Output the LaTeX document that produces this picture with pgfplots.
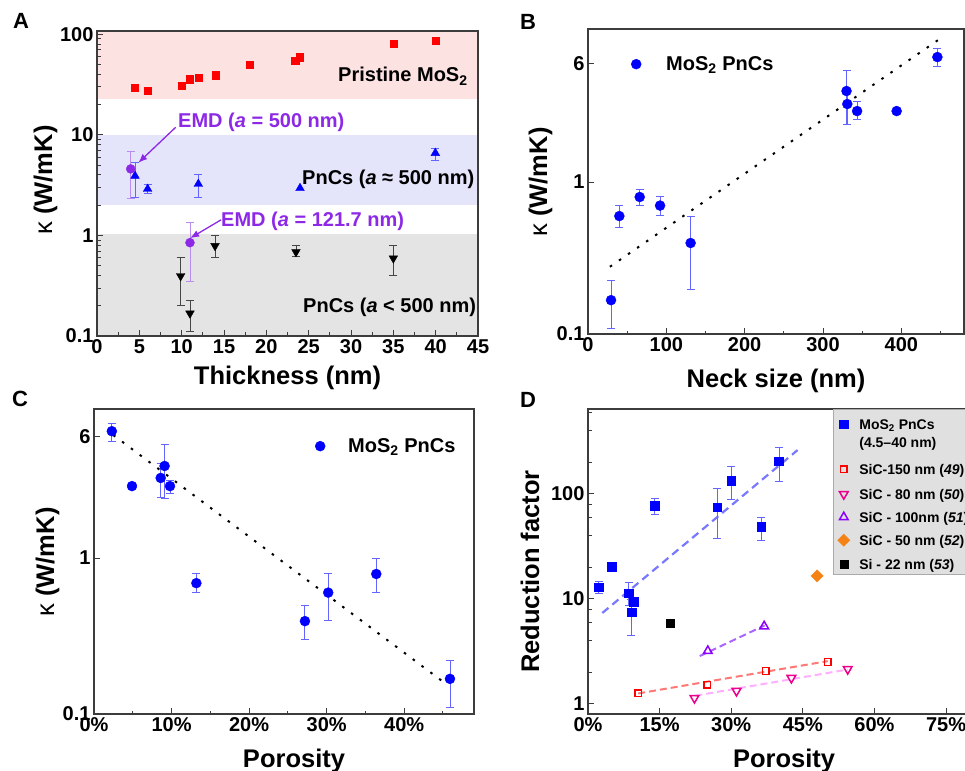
\documentclass[border=0pt]{standalone}
\usepackage{fontspec}
\setmainfont{Liberation Sans}
\usepackage{pgfplots}
\pgfplotsset{compat=1.18}
\usetikzlibrary{arrows.meta}

\definecolor{pinkband}{RGB}{253,226,226}
\definecolor{blueband}{RGB}{228,228,251}
\definecolor{grayband}{RGB}{228,228,228}
\definecolor{emd}{RGB}{140,40,230}
\definecolor{emderr}{RGB}{185,140,240}
\definecolor{bluerr}{RGB}{100,100,255}
\definecolor{blkerr}{RGB}{70,70,70}
\definecolor{axgray}{RGB}{60,60,60}
\definecolor{dblue}{RGB}{120,120,255}
\definecolor{dred}{RGB}{255,120,120}
\definecolor{dpink}{RGB}{255,175,255}
\definecolor{dpurp}{RGB}{170,100,255}
\definecolor{purp}{RGB}{140,0,255}
\definecolor{orng}{RGB}{245,130,20}
\definecolor{lgdgray}{RGB}{224,224,224}
\definecolor{lgdedge}{RGB}{170,170,170}

\newcommand{\tf}{\fontsize{20}{24}\selectfont\bfseries}
\newcommand{\lf}{\fontsize{25.5}{30}\selectfont\bfseries}
\newcommand{\pf}{\fontsize{22}{26}\selectfont\bfseries}
\newcommand{\gf}{\fontsize{14}{17}\selectfont\bfseries}

\pgfplotsset{
  panel/.style={
    scale only axis, anchor=south west, axis on top,
    axis line style={axgray, line width=1.1pt},
    tick style={axgray, line width=1pt},
    major tick length=6pt, minor tick length=3.5pt,
    tick pos=left, tick align=inside,
    ticklabel style={font=\tf},
    /pgf/number format/assume math mode=true,
  },
  errb/.style={
    /pgfplots/error bars/y dir=both,
    /pgfplots/error bars/y explicit,
    /pgfplots/error bars/error bar style={color=#1, line width=0.9pt},
    /pgfplots/error bars/error mark options={color=#1, line width=0.9pt, mark size=4pt, rotate=90},
  },
  onemark/.style={legend image code/.code={\draw[##1] plot coordinates {(0pt,#1)};}},
}

\begin{document}
\begin{tikzpicture}
\path[use as bounding box] (0,0) rectangle (965pt,770pt);

% ---------------- Panel A ----------------
\begin{axis}[panel, at={(97pt,434pt)}, width=381pt, height=305pt,
  xmin=0, xmax=45, ymode=log, ymin=0.1, ymax=108,
  xtick={0,5,10,15,20,25,30,35,40,45}, xticklabels={0,5,10,15,20,25,30,35,40,45},
  minor xtick={2.5,7.5,12.5,17.5,22.5,27.5,32.5,37.5,42.5},
  ytick={0.1,1,10,100}, yticklabels={0.1,1,10,100},
  minor ytick={0.2,0.3,0.4,0.5,0.6,0.7,0.8,0.9,2,3,4,5,6,7,8,9,20,30,40,50,60,70,80,90}]
\addplot[draw=none, fill=pinkband, forget plot] coordinates {(0,22.8) (45,22.8) (45,108) (0,108)};
\addplot[draw=none, fill=blueband, forget plot] coordinates {(0,2.0) (45,2.0) (45,10) (0,10)};
\addplot[draw=none, fill=grayband, forget plot] coordinates {(0,0.1) (45,0.1) (45,1.03) (0,1.03)};
% pristine
\addplot[only marks, mark=square*, mark size=3.6pt, color=red] coordinates {
 (4.49,29.4) (5.98,27.6) (10.0,30.7) (10.98,35.8) (12.0,37.2) (14.0,39.3)
 (17.99,49.7) (23.4,54.9) (23.98,59.3) (35.0,81.0) (39.96,86.1)};
% PnCs a~500
\addplot[only marks, mark=triangle*, mark size=5pt, color=blue, errb=bluerr] coordinates {
 (4.49,3.91) += (0,1.42) -= (0,1.53)
 (5.98,2.90) += (0,0.33) -= (0,0.31)
 (11.97,3.25) += (0,0.75) -= (0,0.86)
 (39.96,6.6) += (0,0.8) -= (0,1.0)};
\addplot[only marks, mark=triangle*, mark size=5pt, color=blue] coordinates {(23.98,2.95)};
% PnCs a<500
\addplot[only marks, mark=triangle*, mark size=5pt, mark options={rotate=180}, color=black, errb=blkerr] coordinates {
 (9.88,0.395) += (0,0.212) -= (0,0.195)
 (10.98,0.168) += (0,0.06) -= (0,0.056)
 (13.94,0.787) += (0,0.208) -= (0,0.18)
 (23.5,0.685) += (0,0.105) -= (0,0.069)
 (35.0,0.593) += (0,0.197) -= (0,0.193)};
% EMD
\addplot[only marks, mark=*, mark size=4.5pt, color=emd, errb=emderr] coordinates {
 (3.98,4.59) += (0,2.23) -= (0,2.28)
 (10.98,0.848) += (0,0.49) -= (0,0.50)};
\draw[emd, line width=1.3pt, -{Latex[length=9pt,width=7pt]}] (axis cs:9.29,11.9) -- (axis cs:4.88,5.28);
\draw[emd, line width=1.3pt, -{Latex[length=9pt,width=7pt]}] (axis cs:14.65,1.43) -- (axis cs:11.0,0.94);
\end{axis}

% ---------------- Panel B ----------------
\begin{axis}[panel, at={(588pt,436pt)}, width=376pt, height=305pt,
  xmin=0, xmax=480, ymode=log, ymin=0.1, ymax=10.16,
  xtick={0,100,200,300,400}, xticklabels={0,100,200,300,400},
  minor xtick={50,150,250,350,450},
  ytick={0.1,1,6}, yticklabels={0.1,1,6}, yminorticks=false,
  onemark=6pt,
  legend style={at={(0.1064,0.918)}, anchor=north west, draw=none, fill=none, font=\tf,
    cells={anchor=base west}, nodes={inner sep=0pt},
    /tikz/every odd column/.append style={column sep=25pt}}]
\addplot[black, line width=2pt, dash pattern=on 2.5pt off 8.5pt, forget plot] coordinates {(28,0.277) (447,8.6)};
\addplot[only marks, mark=*, mark size=5pt, color=blue, errb=bluerr] coordinates {
 (29.4,0.167) += (0,0.059) -= (0,0.059)
 (40,0.597) += (0,0.108) -= (0,0.097)
 (66,0.797) += (0,0.10) -= (0,0.10)
 (92,0.70) += (0,0.10) -= (0,0.10)
 (131,0.397) += (0,0.20) -= (0,0.20)
 (330,3.97) += (0,1.49) -= (0,1.57)
 (331,3.26) += (0,0.80) -= (0,0.85)
 (343.5,2.93) += (0,0.47) -= (0,0.33)
 (394,2.93) += (0,0.12) -= (0,0.12)
 (446,6.64) += (0,0.96) -= (0,0.84)};
\addlegendentry{MoS\textsubscript{2} PnCs}
\end{axis}

% ---------------- Panel C ----------------
\begin{axis}[panel, at={(94pt,56pt)}, width=380pt, height=305pt,
  xmin=0, xmax=49, ymode=log, ymin=0.1, ymax=9.02,
  xtick={0,10,20,30,40}, xticklabels={0\%,10\%,20\%,30\%,40\%},
  minor xtick={5,15,25,35,45},
  ytick={0.1,1,6}, yticklabels={0.1,1,6}, yminorticks=false,
  onemark=6pt,
  legend style={at={(0.5737,0.9115)}, anchor=north west, draw=none, fill=none, font=\tf,
    cells={anchor=base west}, nodes={inner sep=0pt},
    /tikz/every odd column/.append style={column sep=23pt}}]
\addplot[black, line width=2pt, dash pattern=on 2.5pt off 8.5pt, forget plot] coordinates {(2.49,6.14) (45.3,0.157)};
\addplot[only marks, mark=*, mark size=5pt, color=blue, errb=bluerr] coordinates {
 (2.3,6.5) += (0,0.8) -= (0,0.9)
 (8.6,3.26) += (0,0.80) -= (0,0.80)
 (9.1,3.89) += (0,1.49) -= (0,1.49)
 (9.8,2.89) += (0,0.27) -= (0,0.28)
 (13.2,0.69) += (0,0.11) -= (0,0.09)
 (27.2,0.394) += (0,0.10) -= (0,0.094)
 (30.2,0.60) += (0,0.20) -= (0,0.20)
 (36.4,0.79) += (0,0.21) -= (0,0.19)
 (45.9,0.168) += (0,0.052) -= (0,0.058)};
\addlegendentry{MoS\textsubscript{2} PnCs}
\addplot[only marks, mark=*, mark size=5pt, color=blue, forget plot] coordinates {(4.9,2.89)};
\end{axis}

% ---------------- Panel D ----------------
\begin{axis}[panel, at={(588pt,56pt)}, width=380pt, height=305pt,
  xmin=0, xmax=79.6, ymode=log, ymin=0.803, ymax=645,
  xtick={0,15,30,45,60,75}, xticklabels={0\%,15\%,30\%,45\%,60\%,75\%},
  xminorticks=false,
  ytick={1,10,100}, yticklabels={1,10,100},
  minor ytick={2,4,6,8,20,40,60,80,200,400,600},
  onemark=5pt,
  legend style={at={(0.6447,1)}, anchor=north west, fill=lgdgray, draw=lgdedge,
    inner xsep=4.5pt, inner ysep=3pt, font=\gf,
    cells={anchor=base west}, nodes={inner sep=0pt}, row sep=0pt,
    /tikz/every odd column/.append style={column sep=9.5pt}}]
% trend lines
\addplot[dblue, line width=2.2pt, dash pattern=on 8pt off 5pt, forget plot] coordinates {(3.0,7.36) (43.9,262)};
\addplot[dred, line width=2pt, dash pattern=on 7pt off 4pt, forget plot] coordinates {(10.5,1.26) (50.2,2.56)};
\addplot[dpink, line width=2pt, dash pattern=on 7pt off 4pt, forget plot] coordinates {(22.5,1.2) (54.4,2.13)};
\addplot[dpurp, line width=2pt, dash pattern=on 7pt off 4pt, forget plot] coordinates {(23.4,2.86) (37.0,5.6)};
% MoS2 PnCs
\addplot[only marks, mark=square*, mark size=4.3pt, color=blue, errb=bluerr] coordinates {
 (2.2,13.0) += (0,1.8) -= (0,1.6)
 (8.5,11.4) += (0,3.1) -= (0,2.8)
 (9.1,7.5) += (0,2.5) -= (0,3.0)
 (14.0,76.9) += (0,12.8) -= (0,12.9)
 (27.1,75) += (0,39) -= (0,37)
 (30.0,133) += (0,48) -= (0,44)
 (36.3,48.5) += (0,11.5) -= (0,12.5)
 (40.0,206) += (0,74) -= (0,73)};
\addlegendentry[text height=17pt, text depth=7pt]{MoS\textsubscript{2} PnCs}
\addlegendimage{empty legend}
\addlegendentry[text height=11pt, text depth=14pt]{(4.5–40 nm)}
\addplot[only marks, mark=square*, mark size=4.3pt, color=blue, forget plot] coordinates {(4.9,20.2) (9.6,9.4)};
% SiC-150
\addplot[only marks, mark=square, mark size=3.3pt, line width=1.5pt, color=red] coordinates {
 (10.5,1.27) (25,1.52) (37.2,2.06) (50.2,2.51)};
\addlegendentry[text height=13pt, text depth=12pt]{SiC-150 nm (\textit{49})}
% SiC-80
\addplot[only marks, mark=triangle, mark size=5pt, mark options={rotate=180}, line width=1.5pt, color=magenta] coordinates {
 (22.3,1.14) (31.1,1.33) (42.6,1.77) (54.4,2.15)};
\addlegendentry[text height=13pt, text depth=10pt]{SiC - 80 nm (\textit{50})}
% SiC-100
\addplot[only marks, mark=triangle, mark size=5pt, line width=1.5pt, color=purp] coordinates {
 (25.1,3.2) (36.9,5.5)};
\addlegendentry[text height=13pt, text depth=10pt]{SiC - 100nm (\textit{51})}
% SiC-50
\addplot[only marks, mark=square*, mark size=4.3pt, mark options={rotate=45}, color=orng] coordinates {(48,16.6)};
\addlegendentry[text height=13pt, text depth=11pt]{SiC - 50 nm (\textit{52})}
% Si-22
\addplot[only marks, mark=square*, mark size=4pt, color=black] coordinates {(17.3,5.9)};
\addlegendentry[text height=13pt, text depth=2pt]{Si - 22 nm (\textit{53})}
\end{axis}

% ---------------- Texts ----------------
\node[font=\pf, inner sep=0pt] at (21pt,749pt) {A};
\node[font=\pf, inner sep=0pt] at (528pt,748pt) {B};
\node[font=\pf, inner sep=0pt] at (20pt,371pt) {C};
\node[font=\pf, inner sep=0pt] at (528pt,370pt) {D};

\node[anchor=base west, font=\tf, inner sep=0pt] at (338pt,688pt) {Pristine MoS\textsubscript{2}};
\node[anchor=base west, font=\tf, inner sep=0pt, text=emd] at (178pt,642.5pt) {EMD (\textit{a} = 500 nm)};
\node[anchor=base west, font=\tf, inner sep=0pt] at (302pt,585pt) {PnCs (\textit{a} ≈ 500 nm)};
\node[anchor=base west, font=\tf, inner sep=0pt, text=emd] at (221pt,543.3pt) {EMD (\textit{a} = 121.7 nm)};
\node[anchor=base west, font=\tf, inner sep=0pt] at (303pt,457.7pt) {PnCs (\textit{a} < 500 nm)};

\node[anchor=base, font=\lf, inner sep=0pt] at (287.5pt,385pt) {Thickness (nm)};
\node[anchor=base, font=\lf, inner sep=0pt] at (776pt,382pt) {Neck size (nm)};
\node[anchor=base, font=\lf, inner sep=0pt] at (294pt,3pt) {Porosity};
\node[anchor=base, font=\lf, inner sep=0pt] at (784pt,3pt) {Porosity};

\node[anchor=base, rotate=90, font=\lf, inner sep=0pt] at (52pt,590pt) {\textmd{κ} (W/mK)};
\node[anchor=base, rotate=90, font=\lf, inner sep=0pt] at (547pt,588pt) {\textmd{κ} (W/mK)};
\node[anchor=base, rotate=90, font=\lf, inner sep=0pt] at (54pt,208pt) {\textmd{κ} (W/mK)};
\node[anchor=base, rotate=90, font=\lf, inner sep=0pt] at (539pt,198.5pt) {Reduction factor};
\end{tikzpicture}
\end{document}
